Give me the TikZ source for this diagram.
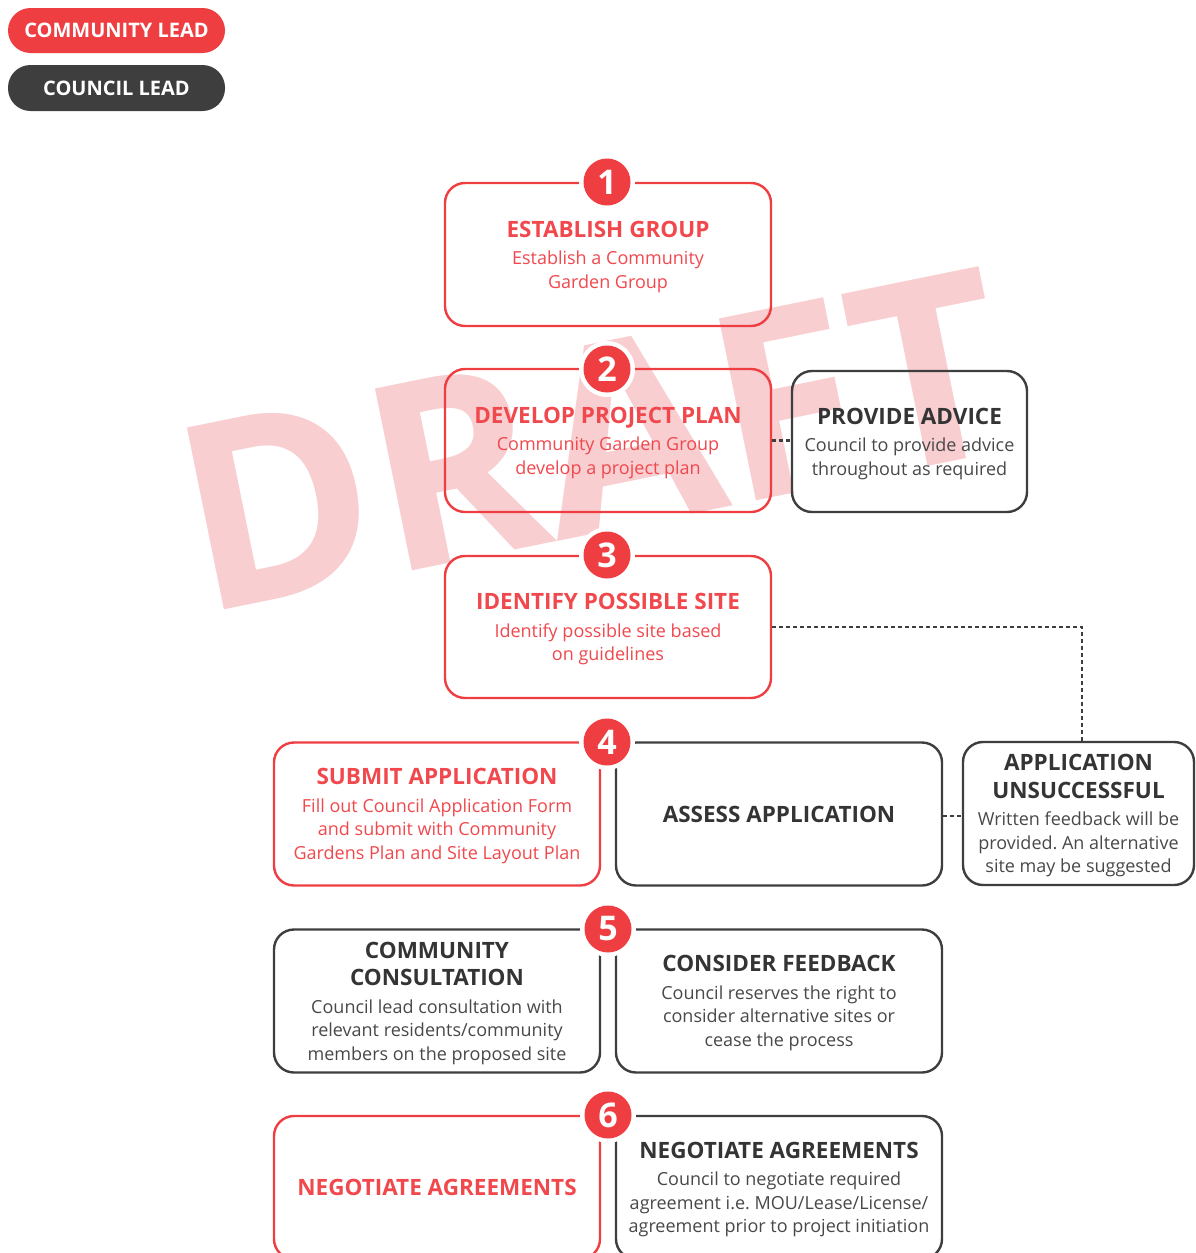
\documentclass[tikz,border=0pt]{standalone}
\usepackage{fontspec}
\setmainfont{Open Sans}
\usetikzlibrary{calc}
\definecolor{cred}{RGB}{239,62,66}
\definecolor{credtext}{RGB}{240,72,77}
\definecolor{cdark}{RGB}{62,62,62}
\definecolor{ctitle}{RGB}{52,52,52}
\definecolor{cbody}{RGB}{72,72,72}
\definecolor{wmark}{RGB}{248,206,209}
\newcommand\ttl{\fontsize{22.5}{28}\selectfont\bfseries}
\frenchspacing
\tikzset{
  stepbox/.style={rectangle, rounded corners=20pt, line width=2.4pt, minimum height=143pt,
    inner sep=0pt, align=center, text depth=-1.7pt, font=\fontsize{18}{23.5}\selectfont\frenchspacing},
  commbox/.style={stepbox, draw=cred, text=credtext, minimum width=326pt},
  councilbox/.style={stepbox, draw=cdark, text=cbody, minimum width=326pt},
  numhalo/.style={circle, fill=white, minimum size=56pt, inner sep=0pt},
  numdot/.style={circle, fill=cred, text=white, minimum size=47pt, inner sep=0pt,
    font=\fontsize{34}{34}\selectfont\bfseries},
  link/.style={draw=cdark, line width=2.4pt, dash pattern=on 4pt off 3pt},
  pill/.style={rectangle, rounded corners=22.5pt, minimum width=217pt, minimum height=45pt,
    text=white, inner sep=0pt, font=\fontsize{20}{20}\selectfont\bfseries},
}
\begin{document}
\begin{tikzpicture}[x=1pt,y=-1pt]
\useasboundingbox (0,0) rectangle (1195,1253);

% watermark
\node[text=wmark, rotate=11.5, inner sep=0pt, font=\fontsize{260}{260}\selectfont\bfseries] (wm) at (592.5,439.5) {DRAFT};

% legend
\node[pill, fill=cred] (legcomm) at (116.5,30.5) {COMMUNITY LEAD};
\node[pill, fill=cdark, minimum height=46pt] (legcouncil) at (116.5,88) {COUNCIL LEAD};

% step boxes
\node[commbox] (s1) at (608,254.5) {{\ttl ESTABLISH GROUP}\\[4pt]Establish a Community\\Garden Group};
\node[commbox] (s2) at (608,440.5) {{\ttl DEVELOP PROJECT PLAN}\\[4pt]Community Garden Group\\develop a project plan};
\node[councilbox, minimum width=235pt, minimum height=141pt] (advice) at (909.5,441.5) {{\ttl\color{ctitle}PROVIDE ADVICE}\\[4pt]Council to provide advice\\throughout as required};
\node[commbox, minimum height=142pt] (s3) at (608,627) {{\ttl IDENTIFY POSSIBLE SITE}\\[4pt]Identify possible site based\\on guidelines};
\node[commbox] (s4) at (437,814) {{\ttl SUBMIT APPLICATION}\\[4pt]Fill out Council Application Form\\and submit with Community\\Gardens Plan and Site Layout Plan};
\node[councilbox] (assess) at (779,814) {{\ttl\color{ctitle}ASSESS APPLICATION}};
\node[councilbox, minimum width=231pt] (fail) at (1078.5,813.5) {{\ttl\color{ctitle}APPLICATION}\\[4pt]{\ttl\color{ctitle}UNSUCCESSFUL}\\[4pt]Written feedback will be\\provided. An alternative\\site may be suggested};
\node[councilbox] (consult) at (437,1001) {{\ttl\color{ctitle}COMMUNITY}\\[4pt]{\ttl\color{ctitle}CONSULTATION}\\[4pt]Council lead consultation with\\relevant residents/community\\members on the proposed site};
\node[councilbox] (feedback) at (779,1001) {{\ttl\color{ctitle}CONSIDER FEEDBACK}\\[4pt]Council reserves the right to\\consider alternative sites or\\cease the process};
\node[commbox] (negcomm) at (437,1187.5) {{\ttl NEGOTIATE AGREEMENTS}};
\node[councilbox] (negcouncil) at (779,1187.5) {{\ttl\color{ctitle}NEGOTIATE AGREEMENTS}\\[4pt]Council to negotiate required\\agreement i.e. MOU/Lease/License/\\agreement prior to project initiation};

% connectors
\coordinate (turn) at (1082,628);
\draw[link] (s2.east) -- (s2.east -| advice.west);
\draw[link] (s3.east) -- (s3.east -| turn) -- (turn |- fail.north);
\draw[link] ($(assess.east)+(0,2)$) -- ($(assess.east -| fail.west)+(0,2)$);

% number badges
\foreach \n/\px/\py in {1/607/182, 2/607/369, 3/607/555, 4/607/742, 5/608/929, 6/608/1115}{
  \node[numhalo] (h\n) at (\px,\py) {};
  \node[numdot] (n\n) at (\px,\py) {\n};
}
\end{tikzpicture}
\end{document}
